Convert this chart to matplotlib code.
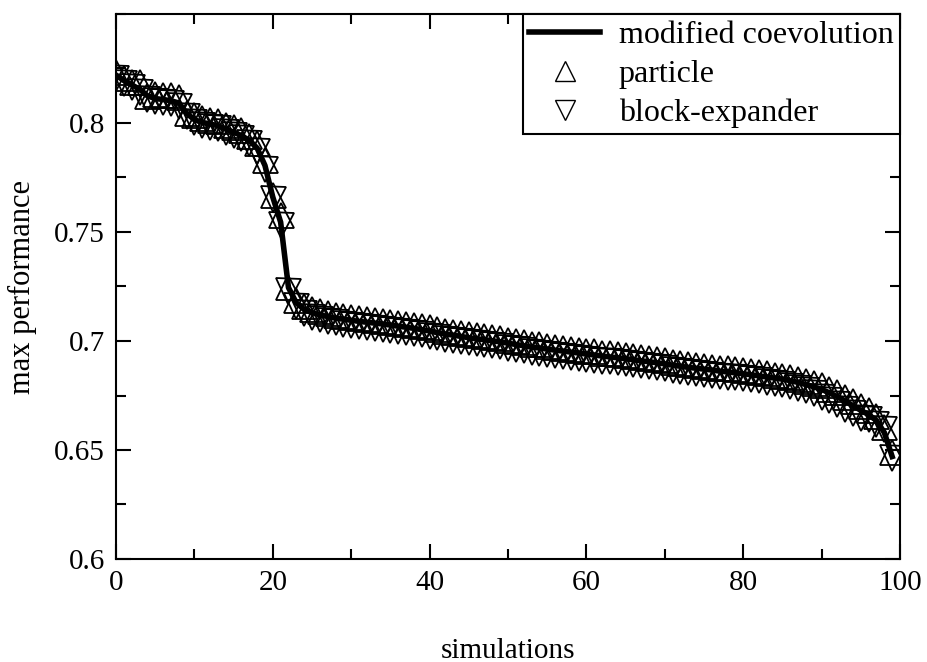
import numpy as np
import matplotlib
matplotlib.use("Agg")
import matplotlib.pyplot as plt
from matplotlib.lines import Line2D
from matplotlib.ticker import MultipleLocator

plt.rcParams['font.family'] = ['Liberation Serif', 'DejaVu Serif']

# simulation index (sorted runs)
sims = np.arange(100)

modified_coevolution = [
    0.8220, 0.8195, 0.8175, 0.8155, 0.8125, 0.8112, 0.8108, 0.8102, 0.8092, 0.8045,
    0.8015, 0.8003, 0.7995, 0.7988, 0.7972, 0.7958, 0.7942, 0.7920, 0.7885, 0.7805,
    0.7660, 0.7545, 0.7245, 0.7175, 0.7145, 0.7130, 0.7120, 0.7112, 0.7105, 0.7100,
    0.7095, 0.7090, 0.7086, 0.7082, 0.7078, 0.7073, 0.7068, 0.7063, 0.7058, 0.7052,
    0.7046, 0.7038, 0.7032, 0.7027, 0.7021, 0.7015, 0.7010, 0.7006, 0.7001, 0.6996,
    0.6990, 0.6984, 0.6978, 0.6972, 0.6968, 0.6963, 0.6958, 0.6954, 0.6949, 0.6945,
    0.6940, 0.6936, 0.6931, 0.6927, 0.6923, 0.6919, 0.6914, 0.6909, 0.6905, 0.6900,
    0.6895, 0.6889, 0.6884, 0.6879, 0.6875, 0.6871, 0.6867, 0.6862, 0.6858, 0.6854,
    0.6850, 0.6845, 0.6840, 0.6835, 0.6830, 0.6825, 0.6818, 0.6810, 0.6800, 0.6790,
    0.6778, 0.6762, 0.6745, 0.6725, 0.6703, 0.6682, 0.6662, 0.6635, 0.6580, 0.6470,
]

particle = [
    0.8236, 0.8206, 0.8190, 0.8188, 0.8122, 0.8134, 0.8129, 0.8128, 0.8120, 0.8045,
    0.8037, 0.8022, 0.8014, 0.8007, 0.7990, 0.7982, 0.7968, 0.7940, 0.7907, 0.7830,
    0.7672, 0.7580, 0.7250, 0.7190, 0.7160, 0.7146, 0.7137, 0.7128, 0.7121, 0.7116,
    0.7110, 0.7106, 0.7102, 0.7097, 0.7093, 0.7089, 0.7084, 0.7079, 0.7074, 0.7068,
    0.7062, 0.7054, 0.7048, 0.7043, 0.7037, 0.7031, 0.7026, 0.7022, 0.7017, 0.7012,
    0.7006, 0.7000, 0.6994, 0.6988, 0.6984, 0.6979, 0.6974, 0.6970, 0.6965, 0.6961,
    0.6956, 0.6952, 0.6947, 0.6943, 0.6939, 0.6935, 0.6930, 0.6925, 0.6921, 0.6916,
    0.6911, 0.6905, 0.6900, 0.6895, 0.6891, 0.6887, 0.6883, 0.6878, 0.6874, 0.6870,
    0.6866, 0.6861, 0.6856, 0.6851, 0.6846, 0.6841, 0.6834, 0.6826, 0.6817, 0.6807,
    0.6796, 0.6781, 0.6764, 0.6745, 0.6724, 0.6703, 0.6683, 0.6656, 0.6605, 0.6490,
]

block_expander = [
    0.8205, 0.8185, 0.8165, 0.8140, 0.8112, 0.8100, 0.8096, 0.8090, 0.8080, 0.8032,
    0.8003, 0.7991, 0.7983, 0.7976, 0.7960, 0.7946, 0.7930, 0.7906, 0.7870, 0.7790,
    0.7650, 0.7530, 0.7230, 0.7160, 0.7128, 0.7112, 0.7101, 0.7093, 0.7086, 0.7080,
    0.7075, 0.7070, 0.7066, 0.7061, 0.7057, 0.7052, 0.7047, 0.7042, 0.7037, 0.7031,
    0.7025, 0.7017, 0.7011, 0.7006, 0.7000, 0.6994, 0.6989, 0.6985, 0.6980, 0.6975,
    0.6969, 0.6963, 0.6957, 0.6951, 0.6947, 0.6942, 0.6937, 0.6933, 0.6928, 0.6924,
    0.6919, 0.6915, 0.6910, 0.6906, 0.6902, 0.6898, 0.6893, 0.6888, 0.6884, 0.6879,
    0.6874, 0.6868, 0.6863, 0.6858, 0.6854, 0.6850, 0.6846, 0.6841, 0.6837, 0.6833,
    0.6829, 0.6824, 0.6819, 0.6814, 0.6809, 0.6803, 0.6795, 0.6785, 0.6773, 0.6760,
    0.6745, 0.6728, 0.6709, 0.6690, 0.6668, 0.6648, 0.6640, 0.6620, 0.6595, 0.6465,
]

fig = plt.figure(figsize=(9.27, 6.62), dpi=100)
ax = fig.add_axes([116 / 927, 1 - 559 / 662, (900 - 116) / 927, (559 - 14) / 662])

ax.plot(sims, particle, linestyle='none', marker='^', markersize=18,
        markerfacecolor='none', markeredgecolor='black', markeredgewidth=1.3, zorder=2)
ax.plot(sims, block_expander, linestyle='none', marker='v', markersize=18,
        markerfacecolor='none', markeredgecolor='black', markeredgewidth=1.3, zorder=2)
ax.plot(sims, modified_coevolution, color='black', linewidth=4, zorder=3)

ax.set_xlim(0, 100)
ax.set_ylim(0.6, 0.85)
ax.xaxis.set_major_locator(MultipleLocator(20))
ax.xaxis.set_minor_locator(MultipleLocator(10))
ax.yaxis.set_major_locator(MultipleLocator(0.05))
ax.yaxis.set_minor_locator(MultipleLocator(0.025))
ax.set_yticks([0.6, 0.65, 0.7, 0.75, 0.8])
ax.set_yticklabels(['0.6', '0.65', '0.7', '0.75', '0.8'])

ax.tick_params(which='both', direction='in', top=True, right=True, width=1.5,
               labelsize=21, pad=8)
ax.tick_params(which='major', length=11)
ax.tick_params(which='minor', length=7)
for s in ax.spines.values():
    s.set_linewidth(1.5)

ax.set_xlabel('simulations', fontsize=21, labelpad=30)
ax.set_ylabel('max performance', fontsize=22, labelpad=12)

handles = [
    Line2D([], [], color='black', linewidth=4),
    Line2D([], [], linestyle='none', marker='^', markersize=14,
           markerfacecolor='none', markeredgecolor='black', markeredgewidth=1.0),
    Line2D([], [], linestyle='none', marker='v', markersize=14,
           markerfacecolor='none', markeredgecolor='black', markeredgewidth=1.0),
]
leg = ax.legend(handles, ['modified coevolution', 'particle', 'block-expander'],
                loc='upper right', bbox_to_anchor=(1, 1), borderaxespad=0,
                fontsize=23, fancybox=False, framealpha=1, edgecolor='black',
                handlelength=2.2, handletextpad=0.6, labelspacing=0.3,
                borderpad=0.2)
leg.get_frame().set_linewidth(1.5)

fig.savefig('out.png', dpi=100)
